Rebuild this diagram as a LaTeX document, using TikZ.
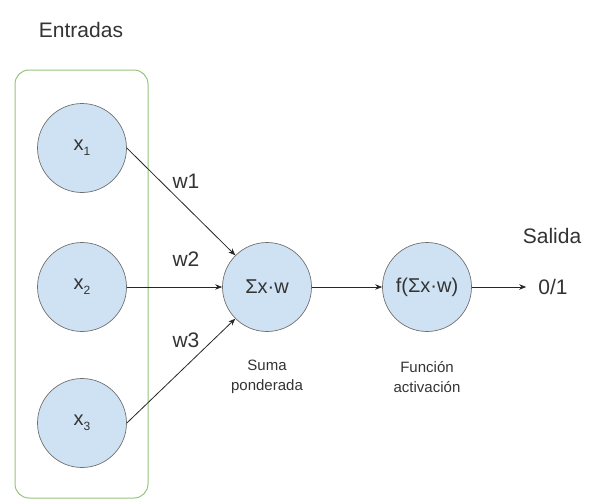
\documentclass[tikz,border=0pt]{standalone}
\usepackage{fontspec}
\setmainfont{Liberation Sans}
\usetikzlibrary{arrows.meta}
\definecolor{nodefill}{HTML}{CFE2F3}
\definecolor{nodeborder}{HTML}{707070}
\definecolor{boxgreen}{HTML}{93C47D}
\definecolor{txt}{HTML}{333333}
\tikzset{
  neuron/.style={circle, draw=nodeborder, fill=nodefill, line width=0.7pt, minimum size=89pt, inner sep=0pt, text=txt, font=\fontsize{20}{24}\selectfont},
  biglabel/.style={text=txt, font=\fontsize{21}{25}\selectfont, inner sep=0pt},
  smalllabel/.style={text=txt, font=\fontsize{15}{19}\selectfont, inner sep=0pt, align=center},
  conn/.style={draw=black!85, line width=0.8pt, -{Stealth[length=7pt,width=5.5pt]}}
}
\newcommand{\xsub}[1]{x\raisebox{-0.5ex}{\fontsize{12}{14}\selectfont #1}}
\begin{document}
\begin{tikzpicture}[x=1pt,y=-1pt]
\useasboundingbox (0,0) rectangle (596,503);
\node[draw=boxgreen, line width=1pt, rounded corners=14pt, minimum width=133pt, minimum height=428pt, inner sep=0pt] (box) at (81.5,284) {};
\node[biglabel] (entradas) at (81,30) {Entradas};
\node[neuron] (x1) at (82,148) {\xsub{1}};
\node[neuron] (x2) at (82,287) {\xsub{2}};
\node[neuron] (x3) at (82,423) {\xsub{3}};
\node[neuron] (sum) at (267,287) {Σx·w};
\node[neuron] (f) at (427,287) {f(Σx·w)};
\node[biglabel] (salida) at (552,236) {Salida};
\node[biglabel] (out) at (553,287) {0/1};
\node[biglabel] (w1) at (186,181) {w1};
\node[biglabel] (w2) at (186,259) {w2};
\node[biglabel] (w3) at (186,340) {w3};
\node[smalllabel] (suma) at (267,377) {Suma\\[1pt]ponderada};
\node[smalllabel] (func) at (427,377) {Función\\[1pt]activación};
\draw[conn] (x1.east) -- (sum.135);
\draw[conn] (x2.east) -- (sum.west);
\draw[conn] (x3.east) -- (sum.225);
\draw[conn] (sum.east) -- (f.west);
\draw[conn, shorten >=12pt] (f.east) -- (out.west);
\end{tikzpicture}
\end{document}
